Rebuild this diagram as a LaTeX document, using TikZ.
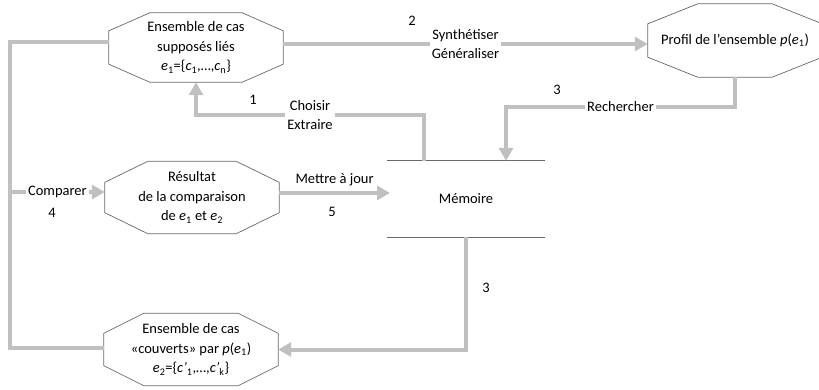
\documentclass[tikz,border=0pt]{standalone}
\usepackage{fontspec}
\setmainfont{Carlito}
\usetikzlibrary{arrows.meta, positioning, calc}
\definecolor{linegray}{RGB}{192,192,192}
\definecolor{edgegray}{RGB}{105,105,105}
\tikzset{
  octo/.style={minimum width=174pt, minimum height=72pt, inner sep=0pt, align=center},
  octline/.style={draw=edgegray, line width=0.7pt, line join=miter},
  flow/.style={draw=linegray, line width=4pt, -{Triangle[length=13pt,width=14pt]}},
  link/.style={draw=linegray, line width=4pt},
  lbl/.style={fill=white, inner sep=2pt, align=center},
  memline/.style={draw=edgegray, line width=0.8pt},
}
% outline of an octagon round a node: node, corner cut x, corner cut y
\newcommand{\drawocto}[3]{%
  \draw [octline] ([xshift=#2]#1.north west) -- ([xshift=-#2]#1.north east)
    -- ([yshift=-#3]#1.north east) -- ([yshift=#3]#1.south east)
    -- ([xshift=-#2]#1.south east) -- ([xshift=#2]#1.south west)
    -- ([yshift=#3]#1.south west) -- ([yshift=-#3]#1.north west) -- cycle;}

\begin{document}
\begin{tikzpicture}[x=1pt, y=-1pt, every node/.style={font=\fontsize{14.5}{19.5}\selectfont}]
\useasboundingbox (0,0) rectangle (819,389);

% Nodes
\node (e1) [octo, minimum height=69pt] at (196,47.5)
  {Ensemble de cas\\supposés liés\\\textit{e}\textsubscript{1}=\{\textit{c}\textsubscript{1},\ldots,\textit{c}\textsubscript{n}\}};
\node (prof) [octo, minimum height=73pt] at (735,40.5)
  {Profil de l’ensemble \textit{p}(\textit{e}\textsubscript{1})};
\node (res) [octo] at (192,197.5)
  {Résultat\\de la comparaison\\de \textit{e}\textsubscript{1} et \textit{e}\textsubscript{2}};
\node (e2) [octo] at (191,349.5)
  {Ensemble de cas\\«couverts» par \textit{p}(\textit{e}\textsubscript{1})\\\textit{e}\textsubscript{2}=\{\textit{c'}\textsubscript{1},\ldots,\textit{c'}\textsubscript{k}\}};
\node (mem) [minimum width=158pt, minimum height=76pt, inner sep=0pt] at (466,199) {Mémoire};

\drawocto{e1}{41pt}{18pt}
\drawocto{prof}{50pt}{20pt}
\drawocto{res}{43pt}{21pt}
\drawocto{e2}{40pt}{20pt}
\draw [memline] (mem.north west) -- (mem.north east);
\draw [memline] (mem.south west) -- (mem.south east);

% Bends
\coordinate (loopT) at (10,42);
\coordinate (loopB) at (10,348);
\coordinate (cmp) at (10,192);
\coordinate (syn) at (283,44);
\coordinate (upd) at (390,193);
\coordinate (ch) at (424,115);
\coordinate (rech) at (506,107);

% Edges
\draw [link] (e1.west |- loopT) -- (loopT) -- (loopB) -- (e2.west |- loopB);
\draw [flow] (cmp) -- node[lbl] (cmpl) {Comparer} (res.west |- cmp);
\draw [flow] (res.east |- upd) -- node[above=2pt] (updl) {Mettre à jour} (upd);
\draw [flow] (e1.east |- syn) -- node[lbl] (synl) {Synthétiser\\Généraliser} (prof.west |- syn);
\draw [flow] (ch |- mem.north) -- (ch) -| node[lbl, pos=0.25] (chl) {Choisir\\Extraire} (e1.south);
\draw [flow] (prof.south) |- node[lbl, pos=0.75] (rechl) {Rechercher} (rech) -- (rech |- mem.north);
\draw [flow] (mem.south) |- (e2.east);

% Step numbers
\node (n1) at (253,100) {1};
\node (n2) at (412,21) {2};
\node (n3a) at (557,90) {3};
\node (n3b) at (486,288) {3};
\node (n4) at (52,213) {4};
\node (n5) at (332,212) {5};
\end{tikzpicture}
\end{document}
